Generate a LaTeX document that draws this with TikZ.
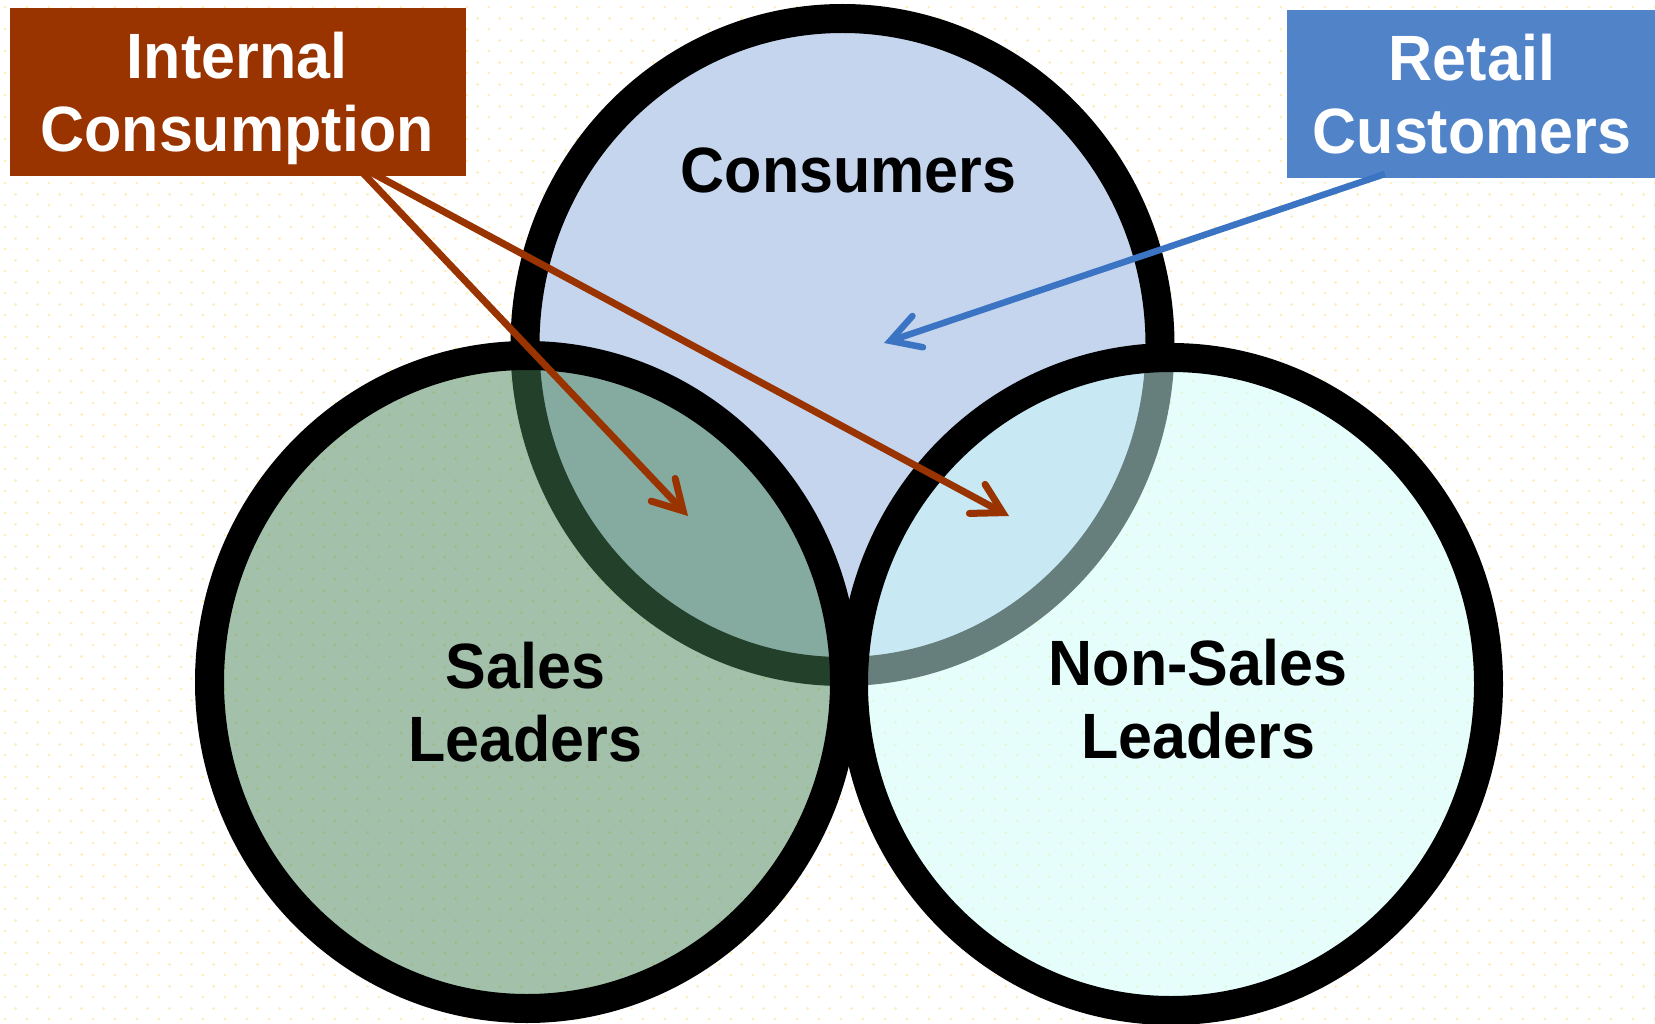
\documentclass[tikz,border=0pt]{standalone}
\usepackage{fontspec}
\usepackage{graphicx}
\setmainfont{Liberation Sans}
\usetikzlibrary{arrows.meta,patterns,shapes.geometric,calc}
\definecolor{bgdot}{RGB}{255,238,180}
\definecolor{consfill}{RGB}{197,213,238}
\definecolor{salesfill}{RGB}{70,130,85}
\definecolor{nonsalesfill}{RGB}{204,253,249}
\definecolor{icbrown}{RGB}{153,51,0}
\definecolor{rcblue}{RGB}{80,131,200}
\definecolor{arrowblue}{RGB}{60,116,196}
\newcommand{\tallline}[1]{\scalebox{1}[1.05]{#1}}
\pgfdeclarepatternformonly{softdots}{\pgfqpoint{0pt}{0pt}}{\pgfqpoint{21.7pt}{21.6pt}}{\pgfqpoint{21.7pt}{21.6pt}}{%
  \pgfpathcircle{\pgfqpoint{5pt}{5pt}}{1.5pt}%
  \pgfpathcircle{\pgfqpoint{15.85pt}{15.8pt}}{1.5pt}%
  \pgfusepath{fill}}
\begin{document}
\begin{tikzpicture}[x=1pt,y=-1pt,
  ring/.style={ellipse, draw=black, line width=29pt, minimum width=635pt, minimum height=653pt, inner sep=0pt, outer sep=0pt},
  tag/.style={rectangle, inner sep=0pt, outer sep=0pt},
  lbl/.style={font=\bfseries\fontsize{61}{73}\selectfont, align=center, text width=600pt, inner sep=0pt, anchor=base},
  link/.style={line width=7pt, -{Straight Barb[length=29pt, width=33pt, line cap=round, line join=miter]}}
]
\useasboundingbox (0,0) rectangle (1655,1024);
\fill[pattern=softdots, pattern color=bgdot] (0,0) rectangle (1655,1024);
\node[ring, fill=consfill] (cons) at (842.5,345) {};
\node[ring, fill=salesfill, fill opacity=0.5] (sales) at (527,682) {};
\node[ring, fill=nonsalesfill, fill opacity=0.5] (nonsales) at (1171,684) {};
\node[tag, fill=icbrown, minimum width=456pt, minimum height=168pt] (ic) at (238,92) {};
\node[tag, fill=rcblue, minimum width=368pt, minimum height=168pt] (rc) at (1471,94) {};
\coordinate (t1) at (688,516);
\coordinate (t2) at (1009,516);
\coordinate (t3) at (884,343);
\draw[link, draw=icbrown] ($(ic.south west)!0.772!(ic.south east)+(0,-4)$) -- (t1);
\draw[link, draw=icbrown] ($(ic.south west)!0.79!(ic.south east)+(0,-4)$) -- (t2);
\draw[link, draw=arrowblue, line width=6.5pt] ($(rc.south west)!0.266!(rc.south east)+(0,-4)$) -- (t3);
\node[lbl, text=white] (iclbl) at (237,79) {\tallline{Internal}\\\tallline{Consumption}};
\node[lbl, text=white] (rclbl) at (1472,81) {\tallline{Retail}\\\tallline{Customers}};
\node[lbl] (conslbl) at (848.5,193) {\tallline{Consumers}};
\node[lbl] (saleslbl) at (525.5,688) {\tallline{Sales}\\\tallline{Leaders}};
\node[lbl] (nonsaleslbl) at (1198,685) {\tallline{Non-Sales}\\\tallline{Leaders}};
\end{tikzpicture}
\end{document}
